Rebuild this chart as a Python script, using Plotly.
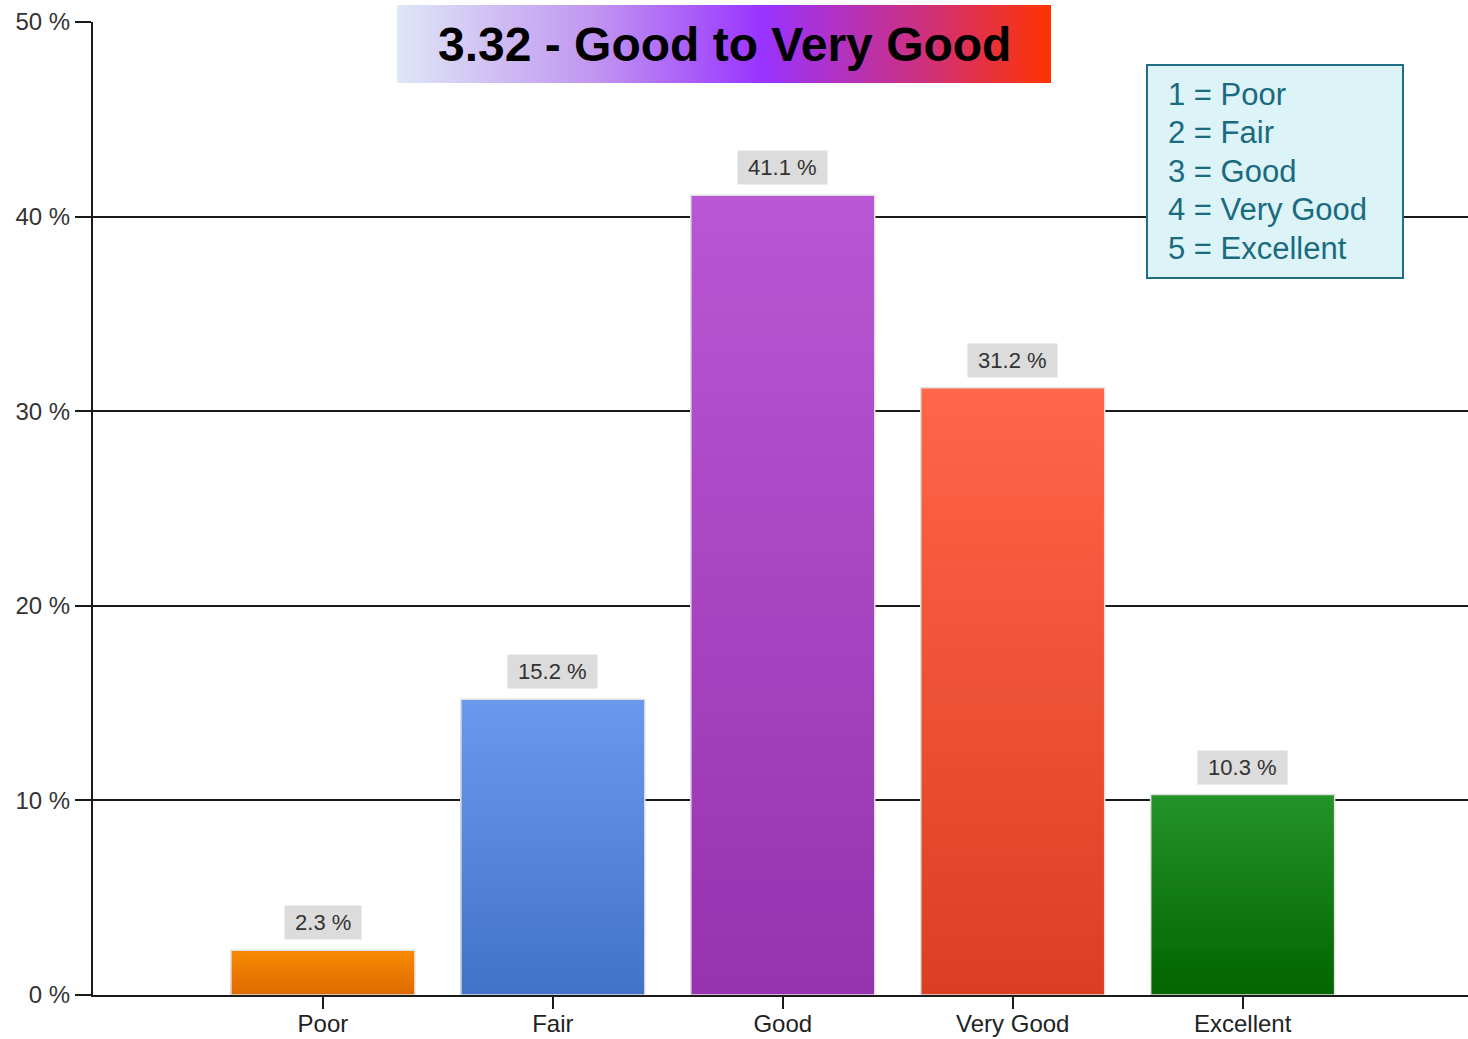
import base64
import plotly.graph_objects as go

categories = ["Poor", "Fair", "Good", "Very Good", "Excellent"]
values = [2.3, 15.2, 41.1, 31.2, 10.3]
value_labels = ["2.3 %", "15.2 %", "41.1 %", "31.2 %", "10.3 %"]
top_colors = ["#f88b04", "#6a98ec", "#b956d3", "#ff6548", "#259229"]
bottom_colors = ["#dc6a00", "#4272c8", "#9632ae", "#da3e22", "#006400"]
y_ticks = [0, 10, 20, 30, 40, 50]
y_tick_labels = ["0 %", "10 %", "20 %", "30 %", "40 %", "50 %"]
title_text = "3.32 - Good to Very Good"
key_lines = ["1 = Poor", "2 = Fair", "3 = Good", "4 = Very Good", "5 = Excellent"]

FONT = "Liberation Sans, Arial, sans-serif"
W, H = 1468, 1039
ML, MR, MT, MB = 93, 0, 22, 44
PW, PH = W - ML - MR, H - MT - MB


def px_x(p):
    return (p - ML) / PW


def px_y(p):
    return (H - MB - p) / PH


def hex2rgb(h):
    h = h.lstrip("#")
    return tuple(int(h[i:i + 2], 16) for i in (0, 2, 4))


def lerp(c1, c2, t):
    a, b = hex2rgb(c1), hex2rgb(c2)
    return "rgb(%d,%d,%d)" % tuple(round(a[k] + (b[k] - a[k]) * t) for k in range(3))


fig = go.Figure()
N = 40
for i in range(N):
    f = i / N
    fig.add_trace(go.Bar(
        x=categories,
        y=[v * (1 - f) for v in values],
        marker=dict(color=[lerp(t, b, f) for t, b in zip(top_colors, bottom_colors)],
                    line=dict(width=0)),
        width=0.8,
        showlegend=False,
        hoverinfo="skip",
    ))
# outline
fig.add_trace(go.Bar(
    x=categories, y=values, width=0.8,
    marker=dict(color="rgba(0,0,0,0)", line=dict(color="#e2e2e2", width=1.5)),
    showlegend=False, hoverinfo="skip",
))

for c, v, lab in zip(categories, values, value_labels):
    fig.add_annotation(
        x=c, y=v, xref="x", yref="y", text="&nbsp;" + lab + "&nbsp;",
        showarrow=False, yanchor="bottom", yshift=10,
        bgcolor="#dcdcdc", borderpad=4,
        font=dict(family=FONT, size=22, color="#333333"),
    )

# title gradient box
svg = (
    '<svg xmlns="http://www.w3.org/2000/svg" width="654" height="78" preserveAspectRatio="none">'
    '<defs><linearGradient id="g" x1="0" y1="0" x2="1" y2="0">'
    '<stop offset="0" stop-color="#dfe7f6"/>'
    '<stop offset="0.3" stop-color="#c196f1"/>'
    '<stop offset="0.56" stop-color="#9933ff"/>'
    '<stop offset="0.8" stop-color="#cc3080"/>'
    '<stop offset="1" stop-color="#ff3300"/>'
    '</linearGradient></defs>'
    '<rect x="0" y="0" width="654" height="78" fill="url(#g)"/></svg>'
)
src = "data:image/svg+xml;base64," + base64.b64encode(svg.encode()).decode()
fig.add_layout_image(
    source=src, xref="paper", yref="paper",
    x=px_x(397), y=px_y(5), sizex=px_x(1051) - px_x(397), sizey=px_y(5) - px_y(83),
    xanchor="left", yanchor="top", sizing="stretch", layer="above",
)
fig.add_annotation(
    x=px_x(724), y=px_y(45), xref="paper", yref="paper", text="<b>%s</b>" % title_text,
    showarrow=False, xanchor="center", yanchor="middle",
    font=dict(family=FONT, size=48, color="#000000"),
)

# key box
fig.add_shape(
    type="rect", xref="paper", yref="paper",
    x0=px_x(1147), x1=px_x(1403), y0=px_y(278), y1=px_y(65),
    fillcolor="#dcf3f7", line=dict(color="#1f6e86", width=2), layer="above",
)
for i, line in enumerate(key_lines):
    fig.add_annotation(
        x=px_x(1166), y=px_y(94 + 38.6 * i), xref="paper", yref="paper",
        text=line, showarrow=False, xanchor="left", yanchor="middle",
        align="left", font=dict(family=FONT, size=31, color="#1a6a80"),
    )

fig.update_layout(
    width=W, height=H,
    margin=dict(l=ML, r=MR, t=MT, b=MB, pad=0, autoexpand=False),
    paper_bgcolor="white", plot_bgcolor="white",
    barmode="overlay", bargap=0.2,
    hovermode=False,
    font=dict(family=FONT, size=24, color="#333333"),
    xaxis=dict(
        type="category", range=[-1, 4.98], automargin=False,
        showline=True, linecolor="#1a1a1a", linewidth=2,
        ticks="outside", ticklen=12, tickwidth=2, tickcolor="#1a1a1a",
        ticklabelstandoff=-6,
        showgrid=False, zeroline=False,
        tickfont=dict(family=FONT, size=24, color="#222222"),
    ),
    yaxis=dict(
        range=[0, 50], tickvals=y_ticks, ticktext=y_tick_labels, automargin=False,
        showline=True, linecolor="#1a1a1a", linewidth=2,
        ticks="outside", ticklen=16, tickwidth=2, tickcolor="#1a1a1a",
        showgrid=True, gridcolor="#1a1a1a", gridwidth=2, zeroline=False,
        tickfont=dict(family=FONT, size=24, color="#333333"),
    ),
)

fig.write_html(
    "out.html",
    config={"displayModeBar": False},
    post_script=(
        "document.documentElement.style.overflow='hidden';"
        "document.documentElement.style.height='1039px';"
        "document.body.style.margin='0';"
        "document.body.style.padding='0';"
        "document.body.style.overflow='hidden';"
        "document.body.style.height='1039px';"
    ),
)
